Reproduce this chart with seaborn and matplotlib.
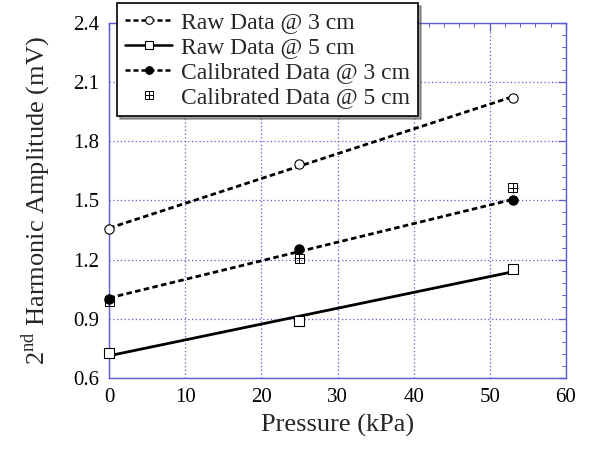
"""
plot.py

Second harmonic amplitude vs pressure, raw and calibrated data at 3 cm and 5 cm,
with linear fit lines for the connected series.
"""

import numpy as np
import matplotlib
matplotlib.use("Agg")
import matplotlib.pyplot as plt
from matplotlib.lines import Line2D
import seaborn as sns

# data
pressure = [0, 25, 53]
raw_3cm = [1.353, 1.687, 2.02]
raw_5cm = [0.726, 0.888, 1.15]
cal_3cm = [1.0, 1.252, 1.5]
cal_5cm = [0.99, 1.207, 1.565]

x_ticks = [0, 10, 20, 30, 40, 50, 60]
y_ticks = [0.6, 0.9, 1.2, 1.5, 1.8, 2.1, 2.4]

GRID_BLUE = "#5b5bd6"
DOTTED = (0, (2.0, 1.2))

sns.set_style("white")
plt.rcParams["font.family"] = ["Liberation Serif", "DejaVu Serif"]
plt.rcParams["mathtext.fontset"] = "custom"
plt.rcParams["mathtext.rm"] = "Liberation Serif"


def fit_line(x, y):
    # least-squares straight line over the pressure range of the data
    slope, intercept = np.polyfit(x, y, 1)
    xs = np.array([min(x), max(x)])
    return xs, slope * xs + intercept


fig = plt.figure(figsize=(6, 4.51), dpi=100)
ax = fig.add_axes([0.182, 0.162, 0.761, 0.787])

# fit lines
for series, ls in [(raw_3cm, DOTTED), (raw_5cm, "-"), (cal_3cm, DOTTED)]:
    xs, ys = fit_line(pressure, series)
    sns.lineplot(x=xs, y=ys, ax=ax, color="black", lw=2, linestyle=ls, zorder=3)

# markers
sns.scatterplot(x=pressure, y=raw_3cm, ax=ax, marker="o", s=45, clip_on=False,
                facecolor="white", edgecolor="black", linewidth=0.8, zorder=4)
sns.scatterplot(x=pressure, y=raw_5cm, ax=ax, marker="s", s=50, clip_on=False,
                facecolor="white", edgecolor="black", linewidth=0.8, zorder=4)
sns.scatterplot(x=pressure, y=cal_3cm, ax=ax, marker="o", s=45, clip_on=False,
                color="black", edgecolor="black", linewidth=0.8, zorder=5)
sns.scatterplot(x=pressure, y=cal_5cm, ax=ax, marker="s", s=45, clip_on=False,
                facecolor="none", edgecolor="black", linewidth=0.7, zorder=4)
sns.scatterplot(x=pressure, y=cal_5cm, ax=ax, marker="+", s=45, clip_on=False,
                color="black", linewidth=0.7, zorder=4)

ax.set_xlim(0, 60)
ax.set_ylim(0.6, 2.4)
ax.set_xticks(x_ticks)
ax.set_yticks(y_ticks)
ax.set_xticks(np.arange(0, 61, 2), minor=True)
ax.set_yticks(np.arange(0.6, 2.41, 0.06), minor=True)
ax.set_xticklabels([str(t) for t in x_ticks])
ax.set_yticklabels([f"{t:.1f}" for t in y_ticks])

ax.grid(True, which="major", color=GRID_BLUE, linestyle=(0, (1, 2)), lw=0.9)
for spine in ax.spines.values():
    spine.set_color(GRID_BLUE)
    spine.set_linewidth(1.0)
ax.tick_params(which="both", direction="in", top=True, right=True,
               color=GRID_BLUE, labelsize=15, labelcolor="black")
ax.tick_params(which="major", length=6, width=0.9, pad=7)
ax.tick_params(which="minor", length=3, width=0.7)

ax.set_xlabel("Pressure (kPa)", fontsize=19, labelpad=5)
ax.set_ylabel(r"2$^{\mathrm{nd}}$ Harmonic Amplitude (mV)", fontsize=19, labelpad=15)

handles = [
    Line2D([], [], color="black", lw=1.8, linestyle=DOTTED, marker="o",
           markersize=5.5, markerfacecolor="white", markeredgewidth=0.8),
    Line2D([], [], color="black", lw=1.8, linestyle="-", marker="s",
           markersize=5.5, markerfacecolor="white", markeredgewidth=0.8),
    Line2D([], [], color="black", lw=1.8, linestyle=DOTTED, marker="o",
           markersize=5.5, markerfacecolor="black", markeredgewidth=0.8),
    (Line2D([], [], ls="none", marker="s", markersize=5.5, markerfacecolor="none",
            markeredgecolor="black", markeredgewidth=0.7),
     Line2D([], [], ls="none", marker="+", markersize=5.5, color="black",
            markeredgewidth=0.7)),
]
labels = ["Raw Data @ 3 cm", "Raw Data @ 5 cm",
          "Calibrated Data @ 3 cm", "Calibrated Data @ 5 cm"]
leg = ax.legend(handles, labels, loc="upper left",
                bbox_to_anchor=(117 / 600, 1 - 3 / 451),
                bbox_transform=fig.transFigure, fontsize=17, frameon=True,
                fancybox=False, shadow=True, framealpha=1, edgecolor="black",
                handlelength=2.0, handletextpad=0.35, labelspacing=0.15,
                borderpad=0.35, borderaxespad=0)
leg.get_frame().set_linewidth(1.2)
leg.set_zorder(10)

fig.savefig("out.png", dpi=100)
plt.close(fig)
